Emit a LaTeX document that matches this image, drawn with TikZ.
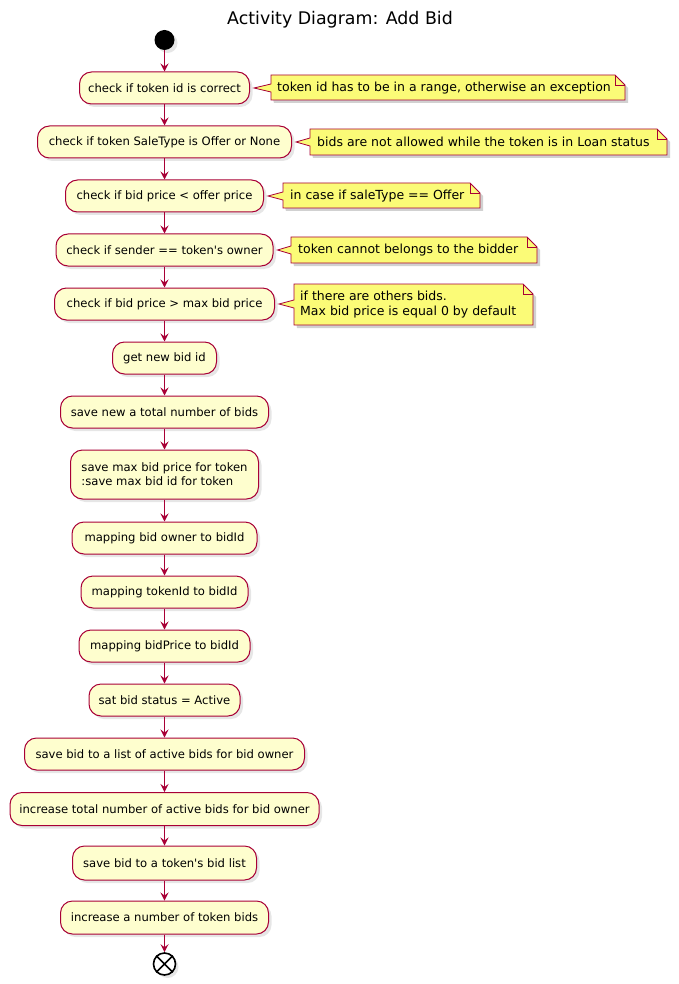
\documentclass[tikz,border=0pt]{standalone}
\usepackage{fontspec}
\setmainfont{DejaVu Sans}[Ligatures=TeXOff]
\usetikzlibrary{arrows.meta,shadows,calc}
\definecolor{umlred}{HTML}{A80036}
\definecolor{actfill}{HTML}{FEFECE}
\definecolor{notefill}{HTML}{FBFB77}

% note outline with folded corner and a wedge pointing at activity #5
% #1 left, #2 top, #3 right, #4 bottom, #5 activity node, #6 note name
\newcommand\umlnote[6]{%
  \coordinate (#6-tip) at ($(#5.east)+(4,0)$);
  \coordinate (#6-l) at (#1,0);
  \foreach \dx/\st in {3/noteshadow,0/notebox}{%
    \path[\st, shift={(\dx,\dx)}]
      (#1,#2) -- (#3-10,#2) -- (#3,#2+10) -- (#3,#4) -- (#1,#4)
      -- ($(#6-tip -| #6-l)+(0,4)$) -- (#6-tip) -- ($(#6-tip -| #6-l)+(0,-4)$) -- cycle;
  }
  \draw[umlred, line width=0.8pt] (#3-10,#2) -- (#3-10,#2+10) -- (#3,#2+10);
}

\begin{document}
\begin{tikzpicture}[x=1pt,y=-1pt,
  act/.style={draw=umlred, fill=actfill, line width=1pt, rounded corners=12pt,
    minimum height=32pt, inner sep=0pt, align=center,
    font=\fontsize{11.6}{14}\selectfont,
    drop shadow={shadow xshift=3pt, shadow yshift=-3pt, opacity=.2}},
  notebox/.style={draw=umlred, fill=notefill, line width=0.8pt},
  noteshadow/.style={fill=black, opacity=.18, draw=none},
  notetext/.style={anchor=west, inner sep=0pt, align=left,
    font=\fontsize{12.5}{15.5}\selectfont},
  flow/.style={draw=umlred, line width=1pt,
    -{Stealth[length=8pt,width=8pt,inset=3pt]}}]

\useasboundingbox (0,0) rectangle (678,984);

\node[font=\fontsize{17.4}{20}\selectfont] (title) at (340,20) {Activity Diagram: Add Bid};

\node[circle, fill=black, minimum size=20pt, inner sep=0pt,
  drop shadow={shadow xshift=3pt, shadow yshift=-3pt, opacity=.2}] (start) at (164.5,40) {};

\node[act, minimum width=170pt] (a1) at (164.5,88) {check if token id is correct};
\node[act, minimum width=254pt] (a2) at (164.5,142) {check if token SaleType is Offer or None};
\node[act, minimum width=198pt] (a3) at (164.5,196) {check if bid price < offer price};
\node[act, minimum width=217pt] (a4) at (164.5,250) {check if sender == token's owner};
\node[act, minimum width=220pt] (a5) at (164.5,304) {check if bid price > max bid price};
\node[act, minimum width=104pt] (a6) at (164.5,358) {get new bid id};
\node[act, minimum width=208pt] (a7) at (164.5,412) {save new a total number of bids};
\node[act, minimum width=188pt, minimum height=49pt, align=left] (a8) at (164.5,474.5)
  {save max bid price for token\\:save max bid id for token};
\node[act, minimum width=185pt] (a9) at (164.5,538) {mapping bid owner to bidId};
\node[act, minimum width=167pt] (a10) at (164.5,592) {mapping tokenId to bidId};
\node[act, minimum width=171pt] (a11) at (164.5,646) {mapping bidPrice to bidId};
\node[act, minimum width=151pt] (a12) at (164.5,700) {sat bid status = Active};
\node[act, minimum width=280pt] (a13) at (164.5,754) {save bid to a list of active bids for bid owner};
\node[act, minimum width=309pt, minimum height=33pt] (a14) at (164.5,809) {increase total number of active bids for bid owner};
\node[act, minimum width=184pt, minimum height=34pt] (a15) at (164.5,863) {save bid to a token's bid list};
\node[act, minimum width=208pt, minimum height=33pt] (a16) at (164.5,917.5) {increase a number of token bids};

\node[circle, draw=black, fill=white, line width=1.6pt, minimum size=22pt, inner sep=0pt,
  drop shadow={shadow xshift=3pt, shadow yshift=-3pt, opacity=.2}] (end) at (164.5,964) {};
\draw[black, line width=1.6pt] (end.north west) -- (end.south east)
  (end.north east) -- (end.south west);

% control flow
\draw[flow] (start) -- (a1);
\foreach \i [evaluate=\i as \j using int(\i+1)] in {1,...,15}
  \draw[flow] (a\i) -- (a\j);
\draw[flow] (a16) -- (end);

% notes
\umlnote{271}{75}{625}{100}{a1}{n1}
\node[notetext] (n1) at (277,88) {token id has to be in a range, otherwise an exception};
\umlnote{310}{129}{667}{155}{a2}{n2}
\node[notetext] (n2) at (317,142) {bids are not allowed while the token is in Loan status};
\umlnote{283}{183}{480}{208}{a3}{n3}
\node[notetext] (n3) at (290,196) {in case if saleType == Offer};
\umlnote{291}{237}{537}{263}{a4}{n4}
\node[notetext] (n4) at (298,250) {token cannot belongs to the bidder};
\umlnote{294}{284}{533}{325}{a5}{n5}
\node[notetext] (n5) at (300,304.5) {if there are others bids.\\Max bid price is equal 0 by default};

\end{tikzpicture}
\end{document}
